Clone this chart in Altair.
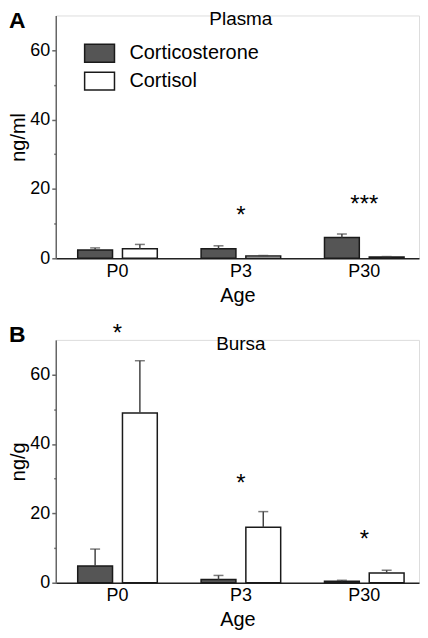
import altair as alt
import pandas as pd

ages = ["P0", "P3", "P30"]
hormones = ["Corticosterone", "Cortisol"]

# Plasma (ng/ml)
plasma_cort = [2.4, 2.75, 6.0]
plasma_cort_err = [0.6, 0.85, 1.0]
plasma_cortisol = [2.75, 0.65, 0.4]
plasma_cortisol_err = [1.25, 0.15, 0.1]
plasma_star_age = ["P3", "P30"]
plasma_star_text = ["*", "***"]
plasma_star_y = [13.5, 16.8]

# Bursa (ng/g)
bursa_cort = [4.8, 0.9, 0.4]
bursa_cort_err = [4.9, 1.2, 0.3]
bursa_cortisol = [48.9, 16.0, 2.8]
bursa_cortisol_err = [15.1, 4.5, 0.8]
bursa_star_age = ["P0", "P3", "P30"]
bursa_star_text = ["*", "*", "*"]
bursa_star_y = [73.1, 29.8, 13.6]

FONT = "Liberation Sans"
W, H = 365, 244


def make_df(c, ce, s, se):
    rows = []
    for i, a in enumerate(ages):
        rows.append({"Age": a, "Hormone": hormones[0], "value": c[i], "upper": c[i] + ce[i]})
        rows.append({"Age": a, "Hormone": hormones[1], "value": s[i], "upper": s[i] + se[i]})
    return pd.DataFrame(rows)


def panel(df, star_age, star_text, star_y, ytitle, title, letter, letter_y, show_legend):
    xscale = alt.Scale(domain=ages, paddingInner=0.355, paddingOuter=0.1494, align=0.595)
    oscale = alt.Scale(domain=hormones, paddingInner=0.222, paddingOuter=0)
    yscale = alt.Scale(domain=[0, 70], nice=False)
    xaxis = alt.Axis(title="Age", labelFontSize=18, titleFontSize=20, titleFontWeight="normal",
                     labelColor="black", titleColor="black", labelFont=FONT, titleFont=FONT,
                     tickSize=0, ticks=False, labelPadding=4, titlePadding=5, labelAngle=0,
                     domainColor="#222222", domainWidth=1.5)
    yaxis = alt.Axis(title=ytitle, values=[0, 10, 20, 30, 40, 50, 60],
                     labelExpr="datum.value % 20 === 0 ? datum.label : ''",
                     tickSize={"condition": {"test": "datum.value % 20 !== 0", "value": 2}, "value": 4},
                     labelFontSize=18, titleFontSize=20, titleFontWeight="normal",
                     labelColor="black", titleColor="black", labelFont=FONT, titleFont=FONT,
                     domainColor="#666666", domainWidth=1.5, tickColor="#666666", tickWidth=1.5,
                     labelPadding=2, titlePadding=1, grid=False)
    X = alt.X("Age:N", scale=xscale, axis=xaxis, sort=ages)
    XO = alt.XOffset("Hormone:N", scale=oscale, sort=hormones)
    if show_legend:
        legend = alt.Legend(title=None, orient="none", legendX=28, legendY=22,
                            symbolType="M-1,-0.6H1V0.6H-1Z", symbolSize=900,
                            symbolStrokeColor="#1a1a1a", symbolStrokeWidth=1.5,
                            labelFontSize=20, labelFont=FONT, labelColor="black",
                            labelOffset=14, rowPadding=-1, padding=0)
    else:
        legend = None
    color = alt.Color("Hormone:N", scale=alt.Scale(domain=hormones, range=["#555555", "#ffffff"]),
                      legend=legend, sort=hormones)

    base = alt.Chart(df)
    bars = base.mark_bar(stroke="#1a1a1a", strokeWidth=1.5).encode(
        x=X, xOffset=XO, y=alt.Y("value:Q", scale=yscale, axis=yaxis), color=color)
    err = base.mark_rule(color="#444444", strokeWidth=1.5).encode(
        x=X, xOffset=XO, y=alt.Y("value:Q", scale=yscale, axis=yaxis), y2="upper:Q")
    caps = base.mark_tick(color="#444444", thickness=1.5, size=10).encode(
        x=X, xOffset=XO, y=alt.Y("upper:Q", scale=yscale, axis=yaxis))

    sdf = pd.DataFrame({"Age": star_age, "t": star_text, "y": star_y})
    stars = alt.Chart(sdf).mark_text(fontSize=24, font=FONT, color="black", baseline="alphabetic",
                                     dy=12).encode(
        x=X, y=alt.Y("y:Q", scale=yscale, axis=yaxis), text="t:N")

    tdf = pd.DataFrame({"t": [title]})
    ttl = alt.Chart(tdf).mark_text(fontSize=19, font=FONT, color="black", align="center",
                                   baseline="top").encode(
        x=alt.value(186), y=alt.value(-5), text="t:N")
    ldf = pd.DataFrame({"t": [letter]})
    let = alt.Chart(ldf).mark_text(fontSize=23, font=FONT, fontWeight="bold", color="black",
                                   align="left", baseline="top").encode(
        x=alt.value(-47), y=alt.value(letter_y), text="t:N")

    return alt.layer(bars, err, caps, stars, ttl, let).properties(width=W, height=H)


dfA = make_df(plasma_cort, plasma_cort_err, plasma_cortisol, plasma_cortisol_err)
dfB = make_df(bursa_cort, bursa_cort_err, bursa_cortisol, bursa_cortisol_err)

pA = panel(dfA, plasma_star_age, plasma_star_text, plasma_star_y, "ng/ml", "Plasma", "A", -5, True)
pB = panel(dfB, bursa_star_age, bursa_star_text, bursa_star_y, "ng/g", "Bursa", "B", -16, False)

chart = alt.vconcat(pA, pB, spacing=15).resolve_scale(color="independent").properties(
    padding={"left": 0, "top": 0, "right": 0, "bottom": 0}
).configure_view(stroke=None).configure(background="white", font=FONT)

chart.save("out.html", embed_options={"renderer": "svg", "actions": False})
